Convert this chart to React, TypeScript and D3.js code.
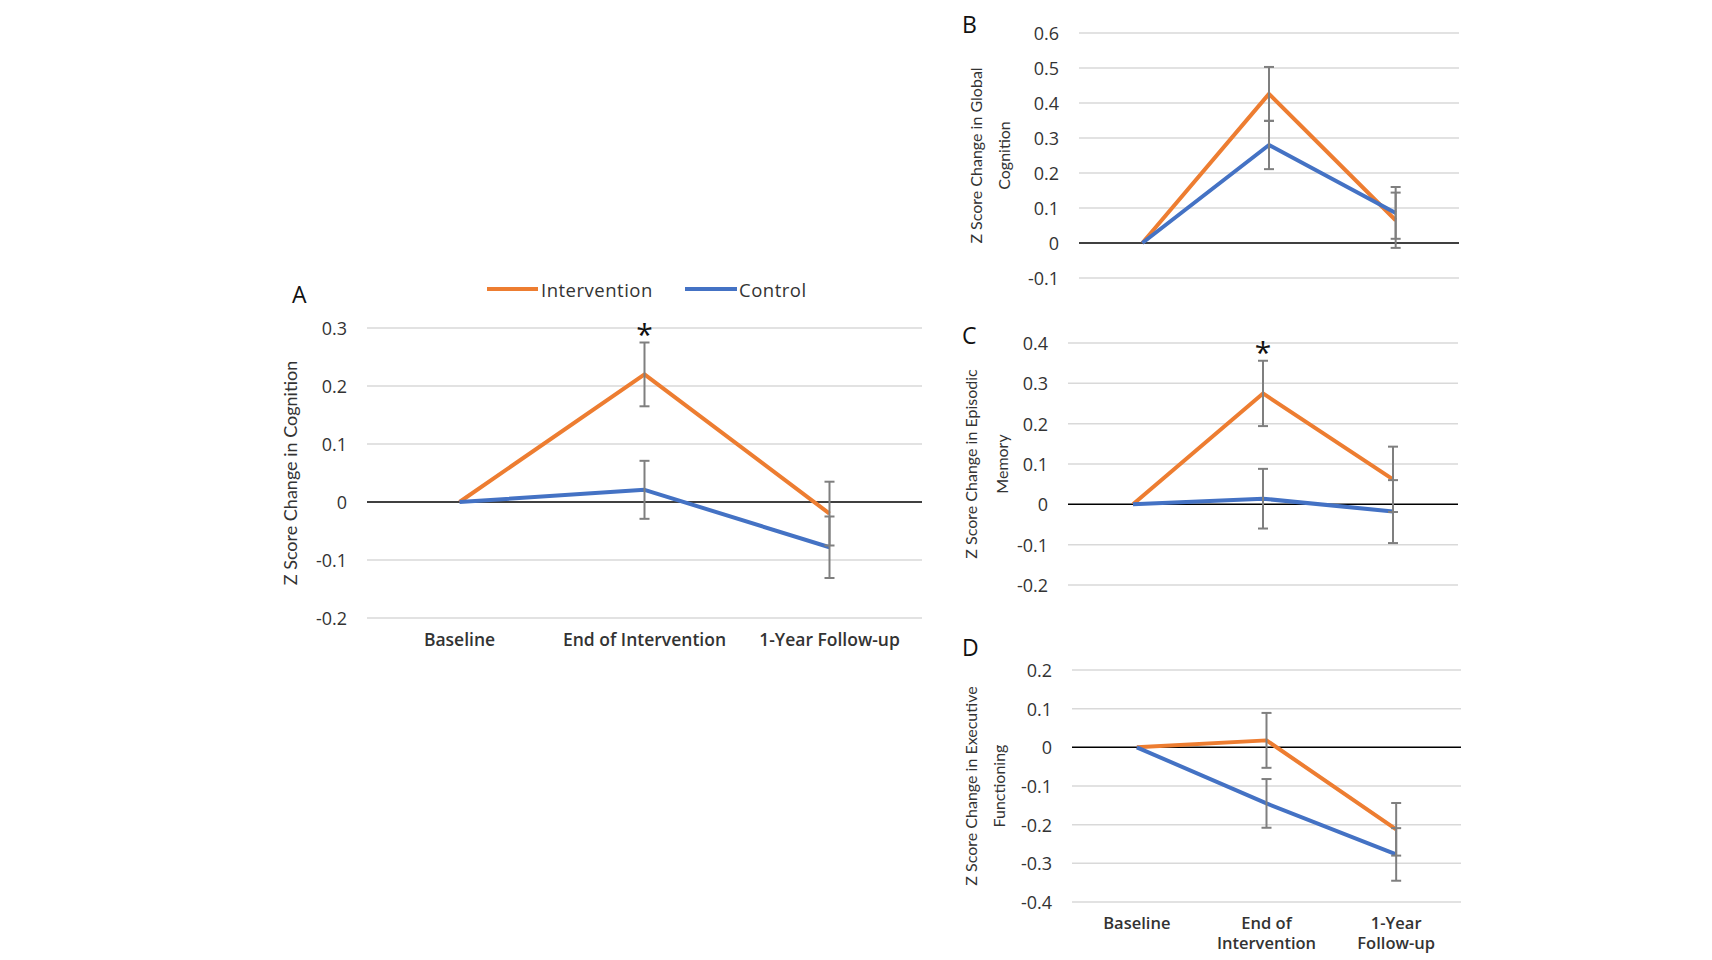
import { scaleBand, scaleLinear, line } from 'd3';

// ---- data ----
const categories = ['Baseline', 'End of Intervention', '1-Year Follow-up'];
const categoryLinesStacked = [['Baseline'], ['End of', 'Intervention'], ['1-Year', 'Follow-up']];
const seriesNames = ['Intervention', 'Control'];

// A: cognition
const aTicks = [-0.2, -0.1, 0, 0.1, 0.2, 0.3];
const aIntervention = [0, 0.22, -0.02];
const aInterventionErr = [0, 0.055, 0.055];
const aControl = [0, 0.021, -0.078];
const aControlErr = [0, 0.05, 0.053];

// B: global cognition
const bTicks = [-0.1, 0, 0.1, 0.2, 0.3, 0.4, 0.5, 0.6];
const bIntervention = [0, 0.426, 0.065];
const bInterventionErr = [0, 0.077, 0.079];
const bControl = [0, 0.28, 0.086];
const bControlErr = [0, 0.069, 0.074];

// C: episodic memory
const cTicks = [-0.2, -0.1, 0, 0.1, 0.2, 0.3, 0.4];
const cIntervention = [0, 0.275, 0.062];
const cInterventionErr = [0, 0.081, 0.081];
const cControl = [0, 0.014, -0.018];
const cControlErr = [0, 0.074, 0.078];

// D: executive functioning
const dTicks = [-0.4, -0.3, -0.2, -0.1, 0, 0.1, 0.2];
const dIntervention = [0, 0.018, -0.212];
const dInterventionErr = [0, 0.071, 0.068];
const dControl = [0, -0.145, -0.277];
const dControlErr = [0, 0.063, 0.068];

const ORANGE = '#ED7D31';
const BLUE = '#4472C4';
const GRID = '#d9d9d9';
const ERR = '#7f7f7f';
const TEXT = '#333';
const SANS = '"Open Sans", "Noto Sans", sans-serif';
const NARROW = 'Lato, "Open Sans", sans-serif';

interface PanelProps {
  letter: string;
  letterY: number;
  ticks: number[];
  yTop: number;
  yBottom: number;
  x0: number;
  x1: number;
  intervention: number[];
  interventionErr: number[];
  control: number[];
  controlErr: number[];
  titleLines: string[];
  titleX: number[];
  titleSize: number;
  star?: boolean;
  catLines?: string[][];
  catY?: number;
  catSize?: number;
}

function Panel(p: PanelProps) {
  const y = scaleLinear()
    .domain([p.ticks[0], p.ticks[p.ticks.length - 1]])
    .range([p.yBottom, p.yTop]);
  const x = scaleBand().domain(categories).range([p.x0, p.x1]);
  const cx = (i: number) => (x(categories[i]) ?? 0) + x.bandwidth() / 2;

  const path = line<number>()
    .x((_, i) => cx(i))
    .y((d) => y(d));

  const series = [
    { vals: p.intervention, err: p.interventionErr, color: ORANGE },
    { vals: p.control, err: p.controlErr, color: BLUE },
  ];

  const titleMid = (p.yTop + p.yBottom) / 2;

  return (
    <g>
      <text x={962} y={p.letterY} fontFamily={SANS} fontSize={23} fill="#111">
        {p.letter}
      </text>

      {/* gridlines + tick labels */}
      {p.ticks.map((t) => (
        <g key={t}>
          <line
            x1={p.x0}
            x2={p.x1}
            y1={y(t)}
            y2={y(t)}
            stroke={t === 0 ? '#000' : GRID}
            strokeWidth={1.5}
          />
          <text
            x={p.x0 - 20}
            y={y(t)}
            textAnchor="end"
            dominantBaseline="central"
            fontFamily={SANS}
            fontSize={18}
            fill={TEXT}
          >
            {String(t)}
          </text>
        </g>
      ))}

      {/* axis title */}
      {p.titleLines.map((s, i) => (
        <text
          key={s}
          transform={`translate(${p.titleX[i]},${titleMid}) rotate(-90)`}
          textAnchor="middle"
          dominantBaseline="central"
          fontFamily={NARROW}
          fontSize={p.titleSize}
          fill={TEXT}
        >
          {s}
        </text>
      ))}

      {/* category labels */}
      {p.catLines &&
        p.catLines.map((lines, i) =>
          lines.map((s, j) => (
            <text
              key={s}
              x={cx(i)}
              y={(p.catY ?? 0) + j * 20}
              textAnchor="middle"
              fontFamily={SANS}
              fontWeight={600}
              fontSize={p.catSize}
              fill={TEXT}
            >
              {s}
            </text>
          ))
        )}

      {/* series lines */}
      {series.map((s) => (
        <path key={s.color} d={path(s.vals) ?? ''} fill="none" stroke={s.color} strokeWidth={4} strokeLinejoin="round" />
      ))}

      {/* error bars */}
      {series.map((s) =>
        s.vals.map((v, i) =>
          s.err[i] > 0 ? (
            <g key={s.color + i} stroke={ERR} strokeWidth={2}>
              <line x1={cx(i)} x2={cx(i)} y1={y(v - s.err[i])} y2={y(v + s.err[i])} />
              <line x1={cx(i) - 5} x2={cx(i) + 5} y1={y(v - s.err[i])} y2={y(v - s.err[i])} />
              <line x1={cx(i) - 5} x2={cx(i) + 5} y1={y(v + s.err[i])} y2={y(v + s.err[i])} />
            </g>
          ) : null
        )
      )}

      {p.star && (
        <text
          x={cx(1)}
          y={y(p.intervention[1] + p.interventionErr[1]) + 2}
          textAnchor="middle"
          fontFamily={SANS}
          fontSize={30}
          fill="#111"
        >
          *
        </text>
      )}
    </g>
  );
}

function PanelA() {
  // letter and legend for A are drawn separately in App
  return (
    <Panel
      letter=""
      letterY={0}
      ticks={aTicks}
      yTop={328}
      yBottom={618}
      x0={367}
      x1={922}
      intervention={aIntervention}
      interventionErr={aInterventionErr}
      control={aControl}
      controlErr={aControlErr}
      titleLines={['Z Score Change in Cognition']}
      titleX={[290]}
      titleSize={18}
      star
      catLines={categories.map((c) => [c])}
      catY={646}
      catSize={17.5}
    />
  );
}

export default function App() {
  return (
    <svg
      width={1712}
      height={960}
      style={{ position: 'absolute', left: 0, top: 0, background: '#fff' }}
    >
      {/* Panel A letter + legend */}
      <g>
        <text x={292} y={303} fontFamily={SANS} fontSize={23} fill="#111">A</text>
        <line x1={487} x2={538} y1={289} y2={289} stroke={ORANGE} strokeWidth={4} />
        <text x={541} y={289} dominantBaseline="central" fontFamily={SANS} fontSize={18.5} letterSpacing={0.5} fill={TEXT}>
          {seriesNames[0]}
        </text>
        <line x1={685} x2={737} y1={289} y2={289} stroke={BLUE} strokeWidth={4} />
        <text x={739} y={289} dominantBaseline="central" fontFamily={SANS} fontSize={18.5} letterSpacing={0.5} fill={TEXT}>
          {seriesNames[1]}
        </text>
      </g>
      <PanelA />

      <Panel
        letter="B"
        letterY={33}
        ticks={bTicks}
        yTop={33}
        yBottom={278}
        x0={1079}
        x1={1459}
        intervention={bIntervention}
        interventionErr={bInterventionErr}
        control={bControl}
        controlErr={bControlErr}
        titleLines={['Z Score Change in Global', 'Cognition']}
        titleX={[975, 1003]}
        titleSize={16}
      />
      <Panel
        letter="C"
        letterY={344}
        ticks={cTicks}
        yTop={343}
        yBottom={585}
        x0={1068}
        x1={1458}
        intervention={cIntervention}
        interventionErr={cInterventionErr}
        control={cControl}
        controlErr={cControlErr}
        titleLines={['Z Score Change in Episodic', 'Memory']}
        titleX={[970, 1001]}
        titleSize={16}
        star
      />
      <Panel
        letter="D"
        letterY={656}
        ticks={dTicks}
        yTop={670}
        yBottom={902}
        x0={1072}
        x1={1461}
        intervention={dIntervention}
        interventionErr={dInterventionErr}
        control={dControl}
        controlErr={dControlErr}
        titleLines={['Z Score Change in Executive', 'Functioning']}
        titleX={[970, 998]}
        titleSize={16}
        catLines={categoryLinesStacked}
        catY={929}
        catSize={16.5}
      />
    </svg>
  );
}
